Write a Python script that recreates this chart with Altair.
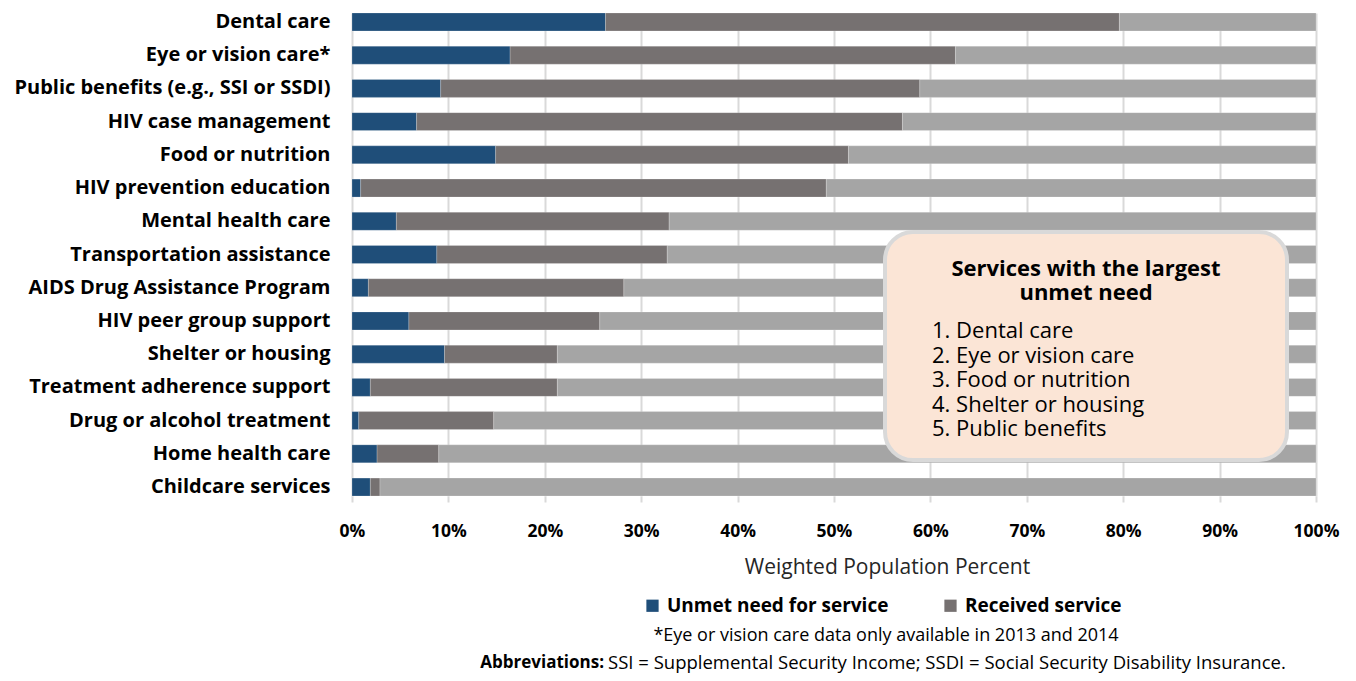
import altair as alt
import pandas as pd

services = [
    "Dental care",
    "Eye or vision care*",
    "Public benefits (e.g., SSI or SSDI)",
    "HIV case management",
    "Food or nutrition",
    "HIV prevention education",
    "Mental health care",
    "Transportation assistance",
    "AIDS Drug Assistance Program",
    "HIV peer group support",
    "Shelter or housing",
    "Treatment adherence support",
    "Drug or alcohol treatment",
    "Home health care",
    "Childcare services",
]
unmet = [26.3, 16.4, 9.2, 6.7, 14.9, 0.9, 4.6, 8.8, 1.7, 5.9, 9.6, 1.9, 0.7, 2.6, 1.9]
received = [53.3, 46.2, 49.7, 50.4, 36.6, 48.3, 28.3, 23.9, 26.5, 19.8, 11.7, 19.4, 14.0, 6.4, 1.0]

series_names = ["Unmet need for service", "Received service", "No need"]
series_colors = ["#1f4e79", "#767171", "#a5a5a5"]
x_ticks = [0, 10, 20, 30, 40, 50, 60, 70, 80, 90, 100]

box_title = ["Services with the largest", "unmet need"]
box_items = ["1. Dental care", "2. Eye or vision care", "3. Food or nutrition",
             "4. Shelter or housing", "5. Public benefits"]
footnote = "*Eye or vision care data only available in 2013 and 2014"
abbrev_label = "Abbreviations:"
abbrev_text = "SSI = Supplemental Security Income; SSDI = Social Security Disability Insurance."

rows = []
for s, u, r in zip(services, unmet, received):
    rows.append({"service": s, "series": series_names[0], "value": u, "order": 0})
    rows.append({"service": s, "series": series_names[1], "value": r, "order": 1})
    rows.append({"service": s, "series": series_names[2], "value": round(100 - u - r, 2), "order": 2})
df = pd.DataFrame(rows)

FONT = "Open Sans"

bars = alt.Chart(df).mark_bar(stroke="#ffffff", strokeOpacity=0.25, strokeWidth=0.8).encode(
    y=alt.Y("service:N", sort=services,
            scale=alt.Scale(paddingInner=0.46, paddingOuter=0),
            axis=alt.Axis(title=None, domain=False, ticks=False, grid=False,
                          labelFont=FONT, labelFontSize=20, labelFontWeight="bold",
                          labelColor="#000000", labelPadding=22, labelLimit=400)),
    x=alt.X("value:Q", stack="zero",
            scale=alt.Scale(domain=[0, 100], nice=False),
            axis=alt.Axis(title="Weighted Population Percent", values=x_ticks,
                          labelExpr="datum.value + '%'", labelFlush=False,
                          domain=False, grid=True, gridColor="#d9d9d9", gridWidth=2,
                          tickColor="#d9d9d9", tickWidth=2, tickSize=6,
                          labelFont=FONT, labelFontSize=17.5, labelFontWeight="bold",
                          labelColor="#000000", labelPadding=20,
                          titleFont=FONT, titleFontSize=21, titleFontWeight="normal",
                          titleColor="#262626", titleX=535, titleAlign="center",
                          titlePadding=17)),
    color=alt.Color("series:N",
                    scale=alt.Scale(domain=series_names, range=series_colors),
                    legend=alt.Legend(values=series_names[:2], title=None, orient="none",
                                      direction="horizontal", legendX=291, legendY=583,
                                      symbolType="square", symbolSize=150,
                                      symbolStrokeWidth=0, symbolOpacity=1,
                                      labelFont=FONT, labelFontSize=19,
                                      labelFontWeight="bold", labelColor="#000000",
                                      labelLimit=400, columnPadding=52, labelOffset=5)),
    order=alt.Order("order:Q"),
)

one = pd.DataFrame({"k": [0]})
base = alt.Chart(one)

box = base.mark_rect(fill="#fbe5d6", stroke="#d9d9d9", strokeWidth=4,
                     cornerRadius=28).encode(
    x=alt.value(533), x2=alt.value(935), y=alt.value(219), y2=alt.value(447))

box_t = base.mark_text(text=box_title, font=FONT, fontSize=22, fontWeight="bold",
                       align="center", baseline="top", lineHeight=24,
                       color="#000000").encode(x=alt.value(734), y=alt.value(246))

box_l = base.mark_text(text=box_items, font=FONT, fontSize=22, fontWeight="normal",
                       align="left", baseline="top", lineHeight=24.6,
                       color="#000000").encode(x=alt.value(580), y=alt.value(308))

foot = base.mark_text(text=footnote, font=FONT, fontSize=18, align="center",
                      baseline="middle", color="#000000").encode(
    x=alt.value(534), y=alt.value(623))

ab1 = base.mark_text(text=abbrev_label, font=FONT, fontSize=17, fontWeight="bold",
                     align="right", baseline="middle", color="#000000").encode(
    x=alt.value(252), y=alt.value(650))
ab2 = base.mark_text(text=abbrev_text, font=FONT, fontSize=18.5, align="left",
                     baseline="middle", color="#000000").encode(
    x=alt.value(256), y=alt.value(650))

chart = alt.layer(bars, box, box_t, box_l, foot, ab1, ab2).properties(
    width=964, height=483,
    autosize=alt.AutoSizeParams(type="none"),
    padding={"left": 344, "top": 5, "right": 32, "bottom": 177},
).configure_view(stroke=None)

chart.save("out.html", embed_options={"renderer": "svg", "actions": False})
